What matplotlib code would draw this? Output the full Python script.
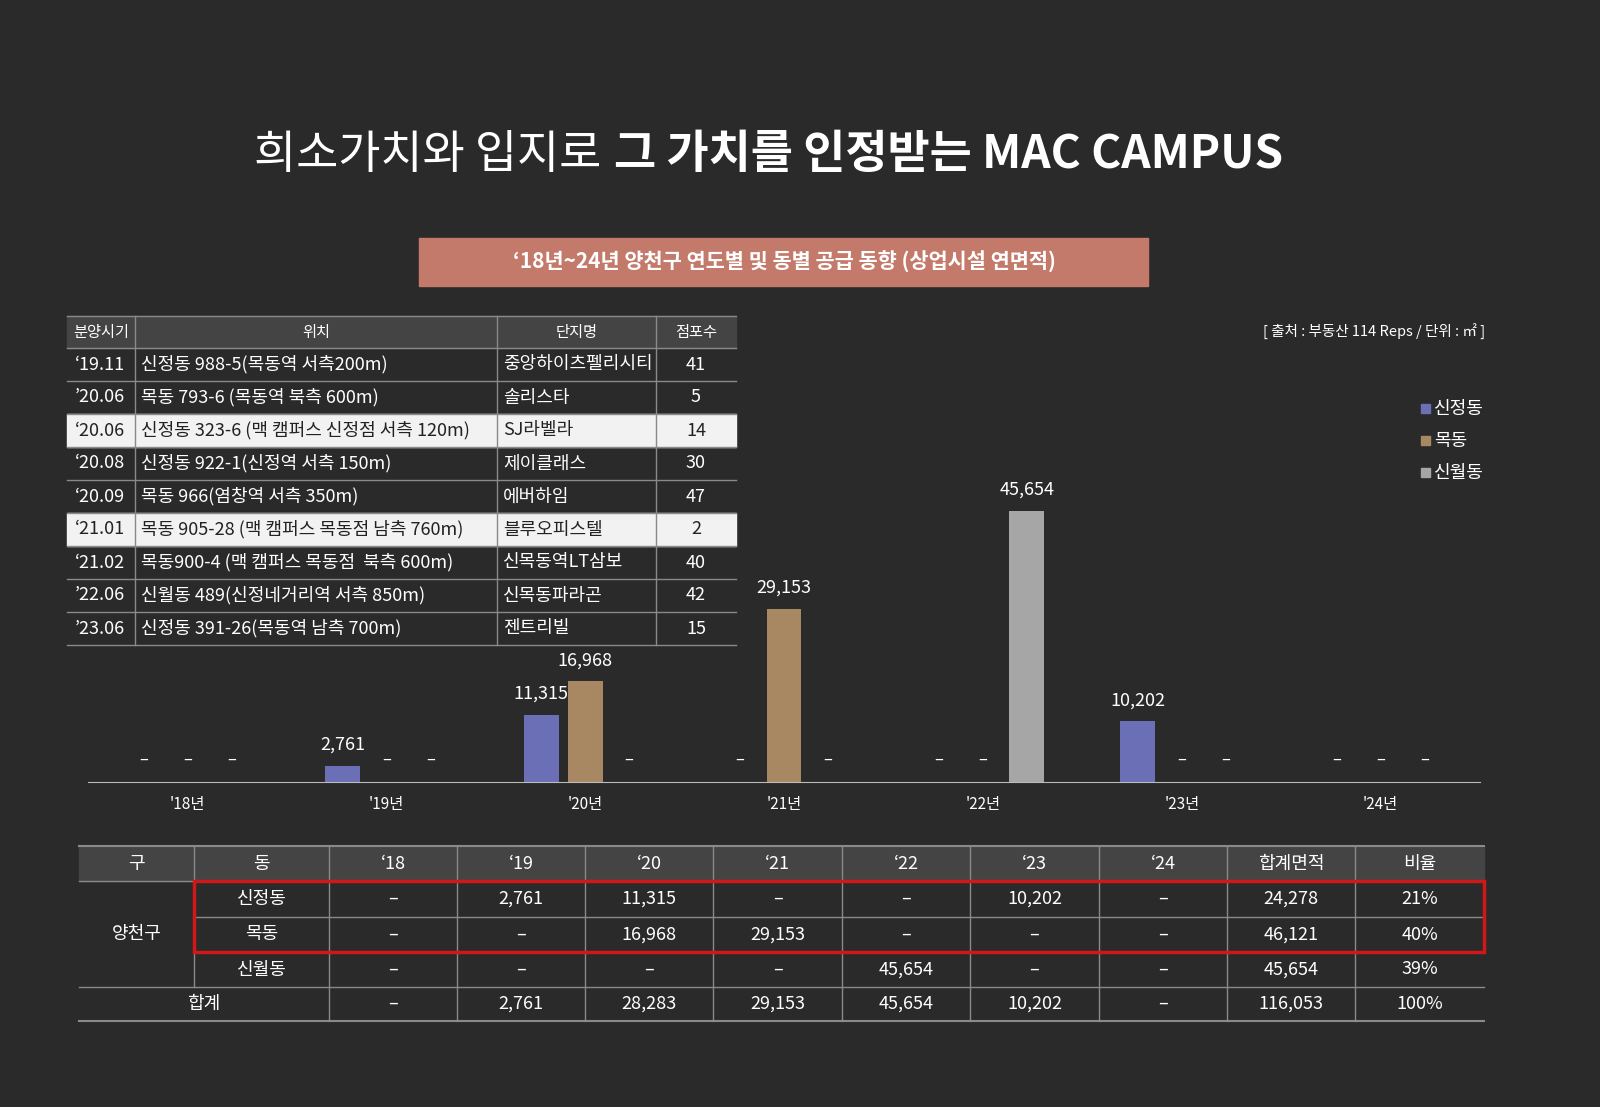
import matplotlib as mpl
mpl.use('Agg')
import matplotlib.pyplot as plt
from matplotlib.patches import Rectangle
import numpy as np

plt.rcParams['font.family'] = ['Noto Sans CJK KR', 'Noto Sans CJK JP', 'Noto Sans CJK SC', 'DejaVu Sans']

BG = '#2a2a2a'
HEAD = '#444444'
LINE = '#8a8a8a'
COLORS = ['#6b6fb5', '#a88763', '#a6a6a6']

# chart data
years = ["'18년", "'19년", "'20년", "'21년", "'22년", "'23년", "'24년"]
dongs = ['신정동', '목동', '신월동']
sinjeong = [0, 2761, 11315, 0, 0, 10202, 0]
mokdong = [0, 0, 16968, 29153, 0, 0, 0]
sinwol = [0, 0, 0, 0, 45654, 0, 0]

# top table
top_header = ['분양시기', '위치', '단지명', '점포수']
top_dates = ["‘19.11", "’20.06", "‘20.06", "‘20.08", "‘20.09", "‘21.01", "‘21.02", "’22.06", "’23.06"]
top_locs = ['신정동 988-5(목동역 서측200m)', '목동 793-6 (목동역 북측 600m)',
            '신정동 323-6 (맥 캠퍼스 신정점 서측 120m)', '신정동 922-1(신정역 서측 150m)',
            '목동 966(염창역 서측 350m)', '목동 905-28 (맥 캠퍼스 목동점 남측 760m)',
            '목동900-4 (맥 캠퍼스 목동점  북측 600m)', '신월동 489(신정네거리역 서측 850m)',
            '신정동 391-26(목동역 남측 700m)']
top_names = ['중앙하이츠펠리시티', '솔리스타', 'SJ라벨라', '제이클래스', '에버하임',
             '블루오피스텔', '신목동역LT삼보', '신목동파라곤', '젠트리빌']
top_stores = [41, 5, 14, 30, 47, 2, 40, 42, 15]
top_highlight = [2, 5]

# bottom table
bot_header = ['구', '동', '‘18', '‘19', '‘20', '‘21', '‘22', '‘23', '‘24', '합계면적', '비율']
totals_row = ['–', '2,761', '28,283', '29,153', '45,654', '10,202', '–', '116,053', '100%']
dong_totals = ['24,278', '46,121', '45,654']
dong_ratio = ['21%', '40%', '39%']

W, H = 1600, 1107
fig = plt.figure(figsize=(16, 11.07), dpi=100, facecolor=BG)
ov = fig.add_axes([0, 0, 1, 1])
ov.set_xlim(0, W)
ov.set_ylim(H, 0)
ov.axis('off')

ov.text(612, 155, '희소가치와 입지로 ', ha='right', va='center', fontsize=33, color='white')
ov.text(614, 155, '그 가치를 인정받는 MAC CAMPUS', ha='left', va='center', fontsize=33,
        color='white', fontweight='bold')
ov.add_patch(Rectangle((419, 238), 729, 48, color='#c47a6a'))
ov.text(784, 262, '‘18년~24년 양천구 연도별 및 동별 공급 동향 (상업시설 연면적)', ha='center',
        va='center', fontsize=15, color='white', fontweight='bold')
ov.text(1485, 332, '[ 출처 : 부동산 114 Reps / 단위 : ㎡ ]', ha='right', va='center',
        fontsize=10.5, color='white')

# top table
cx = [67, 135, 497, 656, 736]
ov.add_patch(Rectangle((cx[0], 316), cx[-1] - cx[0], 32, color=HEAD))
for i, h in enumerate(top_header):
    ov.text((cx[i] + cx[i + 1]) / 2, 332, h, ha='center', va='center', fontsize=11, color='white')
ov.plot([cx[0], cx[-1]], [316, 316], color=LINE, lw=1)
for r in range(len(top_dates)):
    y0 = 348 + r * 33
    tc = 'white'
    if r in top_highlight:
        ov.add_patch(Rectangle((cx[0], y0), cx[-1] - cx[0], 33, color='#f2f2f2'))
        tc = '#222222'
    yc = y0 + 16.5
    ov.text(cx[0] + 8, yc, top_dates[r], ha='left', va='center', fontsize=13, color=tc)
    ov.text(cx[1] + 6, yc, top_locs[r], ha='left', va='center', fontsize=13, color=tc)
    ov.text(cx[2] + 6, yc, top_names[r], ha='left', va='center', fontsize=13, color=tc)
    ov.text((cx[3] + cx[4]) / 2, yc, str(top_stores[r]), ha='center', va='center', fontsize=13, color=tc)
    ov.plot([cx[0], cx[-1]], [y0, y0], color=LINE, lw=1)
ov.plot([cx[0], cx[-1]], [645, 645], color=LINE, lw=1)
for x in cx[1:-1]:
    ov.plot([x, x], [316, 645], color=LINE, lw=1)

# bottom table
bx = [79, 194, 329, 457, 585, 713, 842, 970, 1099, 1227, 1355, 1484]
by = [846, 881, 917, 952, 987, 1021]
ov.add_patch(Rectangle((bx[0], by[0]), bx[-1] - bx[0], by[1] - by[0], color=HEAD))
for i, h in enumerate(bot_header):
    ov.text((bx[i] + bx[i + 1]) / 2, 864, h, ha='center', va='center', fontsize=13, color='white')
rows = [sinjeong, mokdong, sinwol]
for r in range(3):
    yc = (by[r + 1] + by[r + 2]) / 2
    ov.text((bx[1] + bx[2]) / 2, yc, dongs[r], ha='center', va='center', fontsize=13, color='white')
    vals = ['–' if v == 0 else f'{v:,}' for v in rows[r]] + [dong_totals[r], dong_ratio[r]]
    for j, v in enumerate(vals):
        ov.text((bx[j + 2] + bx[j + 3]) / 2, yc, v, ha='center', va='center', fontsize=13, color='white')
ov.text((bx[0] + bx[1]) / 2, (by[1] + by[4]) / 2, '양천구', ha='center', va='center', fontsize=13, color='white')
ov.text((bx[0] + bx[2]) / 2, (by[4] + by[5]) / 2, '합계', ha='center', va='center', fontsize=13, color='white')
for j, v in enumerate(totals_row):
    ov.text((bx[j + 2] + bx[j + 3]) / 2, (by[4] + by[5]) / 2, v, ha='center', va='center',
            fontsize=13, color='white')
ov.plot([bx[0], bx[-1]], [by[0], by[0]], color=LINE, lw=1.5)
ov.plot([bx[0], bx[-1]], [by[1], by[1]], color=LINE, lw=1)
for y in by[2:4]:
    ov.plot([bx[1], bx[-1]], [y, y], color=LINE, lw=1)
ov.plot([bx[0], bx[-1]], [by[4], by[4]], color=LINE, lw=1)
ov.plot([bx[0], bx[-1]], [by[5], by[5]], color=LINE, lw=1.5)
ov.plot([bx[1], bx[1]], [by[0], by[4]], color=LINE, lw=1)
for x in bx[2:-1]:
    ov.plot([x, x], [by[0], by[5]], color=LINE, lw=1)
ov.add_patch(Rectangle((bx[1], by[1]), bx[-1] - bx[1], by[3] - by[1], fill=False,
                       edgecolor='#d01818', lw=2.5, zorder=5))

# legend
for i, d in enumerate(dongs):
    ov.add_patch(Rectangle((1421, 404 + i * 32), 9, 9, color=COLORS[i]))
    ov.text(1434, 409 + i * 32, d, ha='left', va='center', fontsize=13, color='white')

# bar chart
top_px = 400
ax = fig.add_axes([88 / W, 1 - 782 / H, (1480 - 88) / W, (782 - top_px) / H])
ax.patch.set_alpha(0)
ymax = 45654 * (782 - top_px) / 271
ax.set_ylim(0, ymax)
ax.set_xlim(-0.5, 6.5)
x = np.arange(len(years))
dash_off = ymax * 23 / (782 - top_px)
lab_off = ymax * 12 / (782 - top_px)
for k, series in enumerate(rows):
    xs = x + (k - 1) * 0.221
    for xi, v in zip(xs, series):
        if v > 0:
            ax.bar(xi, v, width=0.176, color=COLORS[k])
            ax.text(xi, v + lab_off, f'{v:,}', ha='center', va='bottom', fontsize=13, color='white')
        else:
            ax.text(xi, dash_off, '–', ha='center', va='center', fontsize=12, color='white')
for s in ['top', 'right', 'left']:
    ax.spines[s].set_visible(False)
ax.spines['bottom'].set_color('#bbbbbb')
ax.set_yticks([])
ax.set_xticks(x)
ax.set_xticklabels(years, color='white', fontsize=11)
ax.tick_params(axis='x', length=0, pad=10)

fig.savefig('out.png', dpi=100, facecolor=BG)
